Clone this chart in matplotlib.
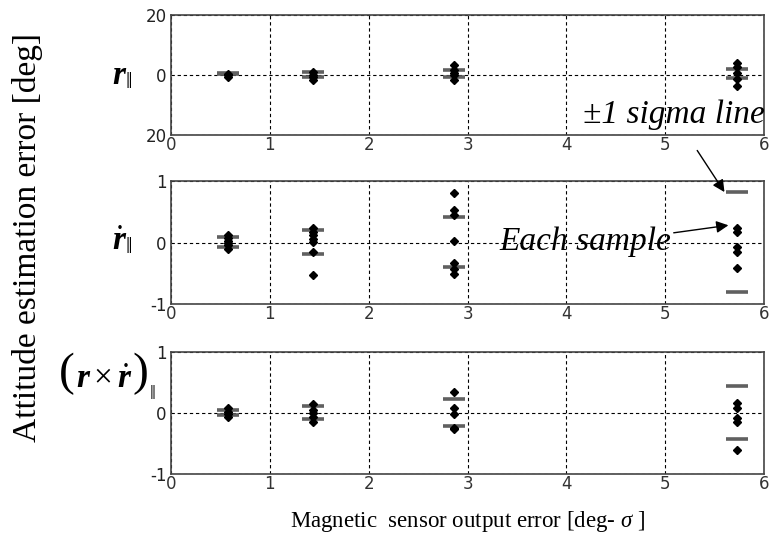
import matplotlib
matplotlib.use("Agg")
import matplotlib.pyplot as plt
import numpy as np

# ---- data ----
x_sigma_deg = [0.573, 1.432, 2.865, 5.73]

# panel 1: r_parallel [deg]
r_samples = [
    [0.3, 0.0, -0.5],
    [1.0, 0.0, -0.5, -1.5],
    [3.3, 1.6, 0.7, 0.0, -1.8],
    [3.9, 2.6, 0.8, -1.3, -3.7],
]
r_sig_hi = [0.6, 1.0, 1.6, 2.0]
r_sig_lo = [0.4, -0.5, -0.7, -1.1]

# panel 2: r_dot_parallel
rd_samples = [
    [0.12, 0.07, 0.03, -0.01, -0.04, -0.11],
    [0.24, 0.17, 0.12, 0.06, 0.01, -0.16, -0.53],
    [0.81, 0.53, 0.45, 0.02, -0.34, -0.43, -0.51],
    [0.23, 0.17, -0.07, -0.15, -0.41],
]
rd_sig_hi = [0.09, 0.20, 0.42, 0.82]
rd_sig_lo = [-0.08, -0.19, -0.40, -0.81]

# panel 3: (r x r_dot)_parallel
rx_samples = [
    [0.08, 0.02, -0.02, -0.06],
    [0.15, 0.05, 0.0, -0.06, -0.15],
    [0.35, 0.09, -0.02, -0.24, -0.27],
    [0.16, 0.09, -0.08, -0.14, -0.61],
]
rx_sig_hi = [0.055, 0.12, 0.23, 0.45]
rx_sig_lo = [-0.03, -0.10, -0.21, -0.43]

x_ticks = [0, 1, 2, 3, 4, 5, 6]
panel_ylim = [(-20, 20), (-1, 1), (-1, 1)]
panel_yticklabels = [["20", "0", "20"], ["-1", "0", "1"], ["-1", "0", "1"]]
panel_labels = [r"$\mathbf{r}_{\Vert}$", r"$\dot{\mathbf{r}}_{\Vert}$", None]

plt.rcParams["mathtext.fontset"] = "custom"
plt.rcParams["mathtext.rm"] = "Liberation Serif"
plt.rcParams["mathtext.it"] = "Liberation Serif:italic"
plt.rcParams["mathtext.bf"] = "Liberation Serif:bold:italic"

fig = plt.figure(figsize=(7.74, 5.41), dpi=100)
W, H = 774, 541
left, right = 171, 764
boxes = [(15, 135), (181, 304), (352, 474)]

samples = [r_samples, rd_samples, rx_samples]
sig_hi = [r_sig_hi, rd_sig_hi, rx_sig_hi]
sig_lo = [r_sig_lo, rd_sig_lo, rx_sig_lo]
label_pos = [(122, 75), (122, 240), None]


def ft(px, py, s, **kw):
    return fig.text(px / W, 1 - py / H, s, **kw)


axes = []
for i, (top, bot) in enumerate(boxes):
    ax = fig.add_axes([left / W, 1 - bot / H, (right - left) / W, (bot - top) / H])
    axes.append(ax)
    lo, hi = panel_ylim[i]
    ax.set_xlim(0, 6)
    ax.set_ylim(lo, hi)
    ax.set_xticks(x_ticks)
    ax.set_xticklabels([str(t) for t in x_ticks])
    ax.set_yticks([lo, 0, hi])
    ax.set_yticklabels(panel_yticklabels[i])
    ax.tick_params(length=0, labelsize=12, colors="#222222", pad=3)
    ax.tick_params(axis="x", pad=1, colors="#333333")
    ax.grid(True, color="black", linestyle=(0, (3, 2.5)), linewidth=0.8)
    for s in ax.spines.values():
        s.set_color("#444444")
        s.set_linewidth(1.2)
    for xv, smp, sh, sl in zip(x_sigma_deg, samples[i], sig_hi[i], sig_lo[i]):
        ax.plot([xv, xv], [sh, sl], linestyle="none", marker="_",
                markersize=16, mew=2.6, color="#606060", zorder=3)
        ax.plot([xv] * len(smp), smp, linestyle="none", marker="D",
                markersize=4, color="black", zorder=4)
    if panel_labels[i] is not None:
        ft(label_pos[i][0], label_pos[i][1], panel_labels[i],
           fontsize=24, ha="center", va="center")

# composite label for panel 3 with tall parentheses
ft(67, 374, "(", fontsize=34, ha="center", va="center", family="Liberation Serif")
ft(104, 378, r"$\mathbf{r}\times\dot{\mathbf{r}}$", fontsize=24, ha="center", va="center")
ft(140, 374, ")", fontsize=34, ha="center", va="center", family="Liberation Serif")
ft(152, 393, r"$\Vert$", fontsize=15, ha="center", va="center")

ft(28, 237, "Attitude estimation error [deg]",
   rotation=90, ha="center", va="center", fontsize=24, family="Liberation Serif")
ft(468, 522, "Magnetic  sensor output error [deg- $\\sigma$ ]",
   ha="center", va="center", fontsize=16.5, family="Liberation Serif")

ax2 = axes[1]
ax2.annotate("±1 sigma line", xy=(5.6, rd_sig_hi[3]), xycoords="data",
             xytext=(674 / W, 1 - 115 / H), textcoords="figure fraction",
             ha="center", va="center", fontsize=24, style="italic",
             family="Liberation Serif",
             arrowprops=dict(arrowstyle="-|>", color="black", lw=1,
                             mutation_scale=18, shrinkA=15, shrinkB=0))
ax2.annotate("Each sample", xy=(5.64, 0.28), xycoords="data",
             xytext=(585 / W, 1 - 242 / H), textcoords="figure fraction",
             ha="center", va="center", fontsize=24, style="italic",
             family="Liberation Serif",
             arrowprops=dict(arrowstyle="-|>", color="black", lw=1,
                             mutation_scale=18, shrinkA=0, shrinkB=0,
                             relpos=(0.95, 0.75)))

fig.savefig("out.png", dpi=100)
